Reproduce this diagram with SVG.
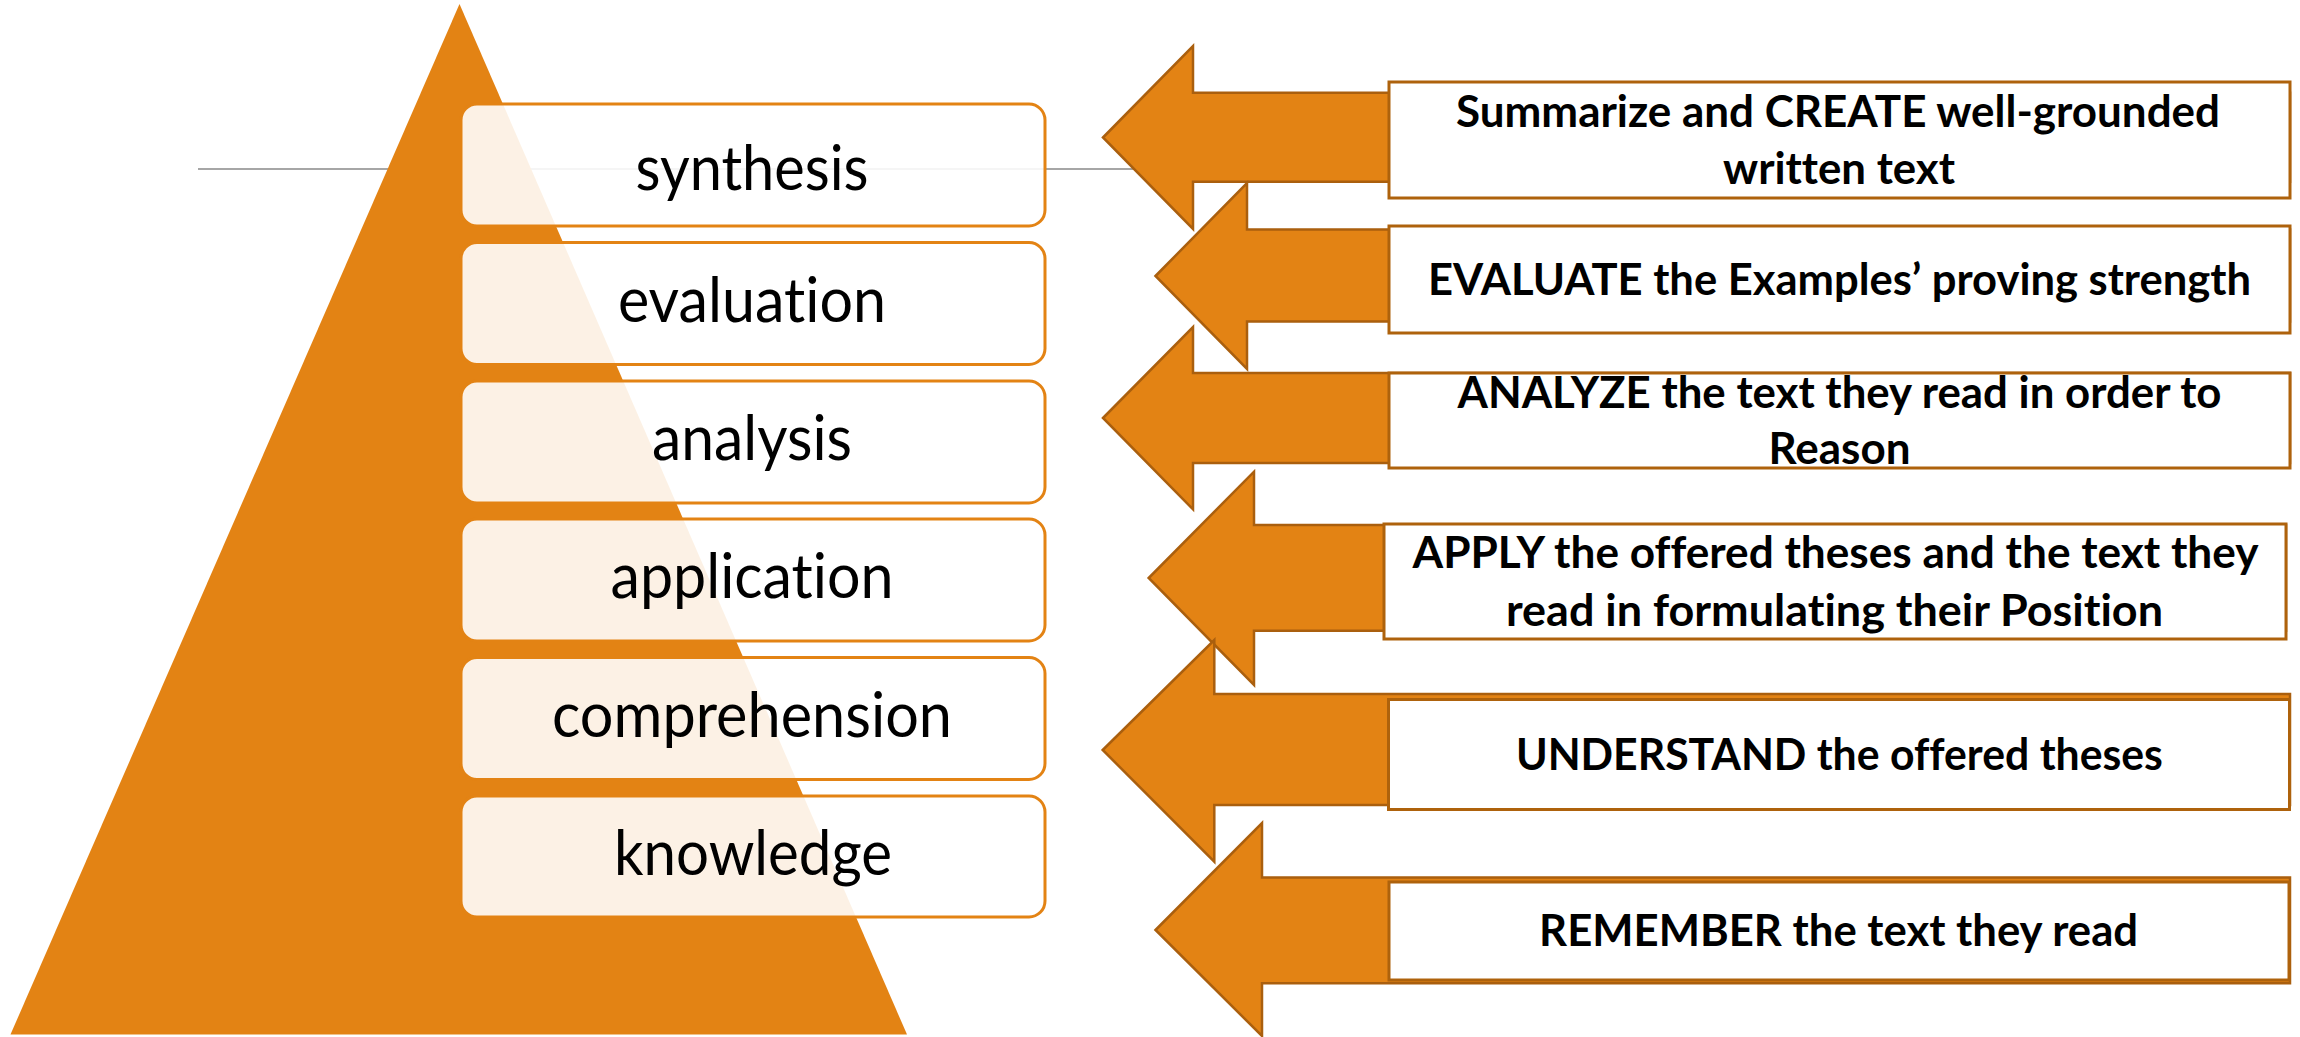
<svg xmlns="http://www.w3.org/2000/svg" width="2300" height="1037" viewBox="0 0 2300 1037">
  <style>
    .tri { fill: #E38314; }
    .lvl rect { fill: #FFFFFF; fill-opacity: 0.89; stroke: #E38314; stroke-width: 3; }
    .lvl text { font-family: Lato, "Open Sans", "Liberation Sans", sans-serif; font-size: 61px; fill: #000000; text-anchor: middle; font-variant-ligatures: none; font-feature-settings: "liga" 0, "clig" 0; }
    .arrow { fill: #E38314; stroke: #AA5F0E; stroke-width: 2.5; stroke-linejoin: miter; }
    .desc rect { fill: #FFFFFF; stroke: #AE620C; stroke-width: 3; }
    .desc text { font-family: Lato, "Open Sans", "Liberation Sans", sans-serif; font-weight: 700; font-size: 44px; fill: #000000; text-anchor: middle; font-variant-ligatures: none; font-feature-settings: "liga" 0, "clig" 0; }
  </style>

  <!-- background gray rule -->
  <line x1="198" y1="169" x2="1150" y2="169" stroke="#A6A6A6" stroke-width="2"/>

  <!-- pyramid -->
  <g id="pyramid">
    <polygon class="tri" points="459.5,4 10.5,1034.5 907,1034.5"/>
  </g>

  <!-- pyramid levels -->
  <g id="level-synthesis" class="lvl">
    <rect x="461" y="104" width="584" height="122" rx="16" ry="16"/>
    <text x="752" y="190" textLength="233" lengthAdjust="spacingAndGlyphs">synthesis</text>
  </g>
  <g id="level-evaluation" class="lvl">
    <rect x="461" y="242.5" width="584" height="122" rx="16" ry="16"/>
    <text x="752" y="322" textLength="268" lengthAdjust="spacingAndGlyphs">evaluation</text>
  </g>
  <g id="level-analysis" class="lvl">
    <rect x="461" y="381" width="584" height="122" rx="16" ry="16"/>
    <text x="752" y="460" textLength="200" lengthAdjust="spacingAndGlyphs">analysis</text>
  </g>
  <g id="level-application" class="lvl">
    <rect x="461" y="519" width="584" height="122" rx="16" ry="16"/>
    <text x="752" y="598" textLength="283" lengthAdjust="spacingAndGlyphs">application</text>
  </g>
  <g id="level-comprehension" class="lvl">
    <rect x="461" y="657.5" width="584" height="122" rx="16" ry="16"/>
    <text x="752" y="736.5" textLength="400" lengthAdjust="spacingAndGlyphs">comprehension</text>
  </g>
  <g id="level-knowledge" class="lvl">
    <rect x="461" y="796" width="584" height="121" rx="16" ry="16"/>
    <text x="753" y="874.5" textLength="278" lengthAdjust="spacingAndGlyphs">knowledge</text>
  </g>

  <!-- connectors: block arrows -->
  <g id="connectors">
    <polygon class="arrow" points="1103,137.5 1193,46 1193,92.7 2290,92.7 2290,181.7 1193,181.7 1193,229"/>
    <polygon class="arrow" points="1155.5,276 1247,183 1247,229.5 2290,229.5 2290,321.5 1247,321.5 1247,369"/>
    <polygon class="arrow" points="1103,418 1193,327 1193,373 2290,373 2290,463 1193,463 1193,509.3"/>
    <polygon class="arrow" points="1148.7,578 1254,471.7 1254,525 2286,525 2286,630.7 1254,630.7 1254,685"/>
    <polygon class="arrow" points="1102.7,750 1214.3,640 1214.3,694 2290,694 2290,805 1214.3,805 1214.3,861.7"/>
    <polygon class="arrow" points="1155.5,930 1262,823 1262,877.5 2290,877.5 2290,983.3 1262,983.3 1262,1036"/>
  </g>

  <!-- description boxes -->
  <g id="desc-create" class="desc">
    <rect x="1389" y="82" width="901" height="116"/>
    <text x="1838" y="126.7" textLength="764" lengthAdjust="spacingAndGlyphs">Summarize and CREATE well-grounded</text>
    <text x="1839" y="184" textLength="232" lengthAdjust="spacingAndGlyphs">written text</text>
  </g>
  <g id="desc-evaluate" class="desc">
    <rect x="1389" y="226" width="901" height="107"/>
    <text x="1839.5" y="295" textLength="823" lengthAdjust="spacingAndGlyphs">EVALUATE the Examples’ proving strength</text>
  </g>
  <g id="desc-analyze" class="desc">
    <rect x="1389" y="373" width="901" height="95"/>
    <text x="1839.5" y="407.7" textLength="764" lengthAdjust="spacingAndGlyphs">ANALYZE the text they read in order to</text>
    <text x="1839.5" y="464.3" textLength="142" lengthAdjust="spacingAndGlyphs">Reason</text>
  </g>
  <g id="desc-apply" class="desc">
    <rect x="1384" y="524" width="902" height="115"/>
    <text x="1835.5" y="567.6" textLength="846" lengthAdjust="spacingAndGlyphs">APPLY the offered theses and the text they</text>
    <text x="1834.5" y="625.5" textLength="657" lengthAdjust="spacingAndGlyphs">read in formulating their Position</text>
  </g>
  <g id="desc-understand" class="desc">
    <rect x="1388.5" y="699.5" width="901" height="110"/>
    <text x="1839.4" y="769.5" textLength="647" lengthAdjust="spacingAndGlyphs">UNDERSTAND the offered theses</text>
  </g>
  <g id="desc-remember" class="desc">
    <rect x="1389" y="882" width="900" height="98"/>
    <text x="1838.6" y="945.6" textLength="599" lengthAdjust="spacingAndGlyphs">REMEMBER the text they read</text>
  </g>
</svg>
